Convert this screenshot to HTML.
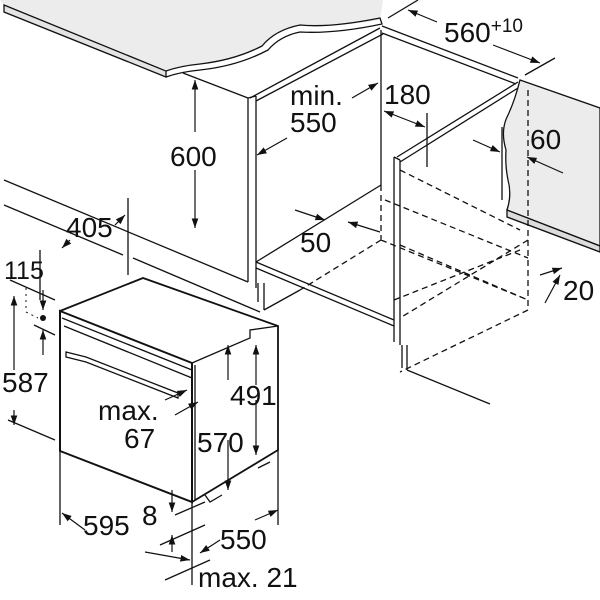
<!DOCTYPE html>
<html><head><meta charset="utf-8"><style>
html,body{margin:0;padding:0;background:#fff}
svg{display:block}
text{font-family:"Liberation Sans",Arial,sans-serif;fill:#111}
</style></head><body>
<svg width="600" height="600" viewBox="0 0 600 600" xmlns="http://www.w3.org/2000/svg">
<defs>
<marker id="a" viewBox="0 0 10 10" refX="10" refY="5" markerWidth="8" markerHeight="8" orient="auto-start-reverse"><path d="M0,1.5 L10,5 L0,8.5 z" fill="#111"/></marker>
</defs>
<g stroke="#111" stroke-width="1.3" fill="none">
<path d="M0,0 L383,0 L380,20 Q330,28 300,25 Q275,30 262,46 Q235,60 200,64 Q180,66 166,70 L4,5 Z" fill="#ececec" stroke="none"/>
<path d="M4,5 L166,71 L166,77 L4,12 Z" fill="#e4e4e4"/>
<path d="M166,71 Q180,66 200,64 Q235,60 262,46 Q275,30 300,25 Q330,28 380,18 L382,24 Q335,34 300,32 Q280,36 268,50 Q238,66 200,70 Q180,72 166,77"/>
<path d="M520,80 L600,108 L600,246 L507,210 Q512,195 508,180 Q505,165 506,150 Q500,130 508,115 Q515,100 520,80 Z" fill="#ececec"/>
<path d="M507,210 L600,246 L600,252 L507,217 Z" fill="#dcdcdc"/>
<line x1="183" y1="73" x2="248" y2="98"/>
<path d="M248,98 L248,282 M256,96 L256,288 M248,98 L256,96"/>
<path d="M250,98 L380,28 M256,101 L383,34"/>
<line x1="381" y1="30" x2="381" y2="185"/>
<path d="M382,26 L518,78 M382,33 L516,84"/>
<path d="M394,157 L394,342 M400,160 L400,345 M394,157 L400,160 M397,157 L518,82 M400,162 L518,88"/>
<path d="M402,345 L402,368 M407,345 L407,370 M407,370 L490,404"/>
<path d="M256,262 L381,185 M256,268 L394,326 M256,262 L394,320"/>
<path d="M258,283 L258,302 M264,283 L264,310 M264,310 L300,290"/>
<g stroke-dasharray="6,4">
<path d="M381,185 L381,240 M400,170 L520,230 M385,200 L528,258 M400,245 L528,300 M381,240 L300,290 M528,240 L400,318 M528,90 L528,310 M528,310 L400,372 M394,300 L520,250 M381,240 L528,300"/>
</g>
<path d="M4,180 L248,282 M4,205 L123,255 M133,258 L260,312"/>
<path d="M128,198 L128,275"/>
<!-- extension lines top -->
<path d="M388,18 L418,0 M525,75 L555,58 M427,113 L427,167 M502,127 L502,200"/>
<path d="M60,311 L192,363 L192,502 L60,451 Z" stroke-width="2"/>
<path d="M60,311 L143,278 L278,326 L278,450 L192,502" stroke-width="1.8"/>
<path d="M192,363 L250,338 L250,330 L278,326"/>
<path d="M62,318 L192,370 M64,326 L192,378"/>
<path d="M66,352 L86,357 L178,393 L178,398 L86,362 L66,357 Z"/>
<path d="M195,365 L195,500"/>
<path d="M205,495 L210,502 L222,495 M258,468 L270,462"/>
<path d="M60,451 L60,525 M192,502 L192,585 M278,450 L278,525 M8,420 L55,440 M10,280 L55,300 M34,325 L55,335 M40,250 L40,300"/>
<path d="M175,515 L205,502 M160,545 L205,525 M165,580 L210,560"/>
</g>
<g stroke="#111" stroke-width="1.2" fill="none" marker-end="url(#a)">
<path d="M195,170 L195,228"/><path d="M195,132 L195,80"/>
<path d="M287,138 L257,155"/>
<path d="M352,98 L378,83"/>
<path d="M384,111 L425,127" marker-start="url(#a)"/>
<path d="M437,22 L408,10"/><path d="M493,45 L540,63"/>
<path d="M473,140 L500,152"/><path d="M563,173 L527,157"/>
<path d="M295,210 L325,220"/><path d="M380,232 L348,222"/>
<path d="M545,303 L560,275"/><path d="M540,275 L562,268"/>
<path d="M115,225 L125,215"/><path d="M70,240 L62,248"/>
<path d="M43,290 L43,310"/><path d="M43,355 L43,330"/>
<path d="M14,370 L14,296"/><path d="M14,410 L14,425"/>
<path d="M228,380 L228,345"/><path d="M228,440 L228,490"/>
<path d="M256,385 L256,345"/><path d="M256,400 L256,455"/>
<path d="M165,400 L187,390"/><path d="M175,415 L198,402"/>
<path d="M85,530 L62,513"/><path d="M145,552 L190,560"/>
<path d="M172,490 L172,512"/><path d="M172,552 L172,535"/>
<path d="M220,540 L200,553"/><path d="M255,520 L278,510"/>
</g>
<circle cx="43" cy="318" r="3" fill="#111"/>
<path d="M26,288 L26,312 L38,318" stroke="#111" stroke-dasharray="2,4" fill="none"/>
<g font-size="28">
<text x="170" y="166">600</text>
<text x="290" y="105">min.</text>
<text x="290" y="132">550</text>
<text x="384" y="104">180</text>
<text x="444" y="42">560<tspan font-size="19" dy="-10">+10</tspan></text>
<text x="530" y="149">60</text>
<text x="300" y="252">50</text>
<text x="563" y="300">20</text>
<text x="66" y="237">405</text>
<text x="4" y="279" font-size="25">115</text>
<text x="2" y="392">587</text>
<text x="230" y="405">491</text>
<text x="98" y="420">max.</text>
<text x="124" y="448">67</text>
<text x="197" y="452">570</text>
<text x="83" y="535">595</text>
<text x="142" y="525">8</text>
<text x="220" y="549">550</text>
<text x="198" y="587">max. 21</text>
</g>
</svg>
</body></html>
